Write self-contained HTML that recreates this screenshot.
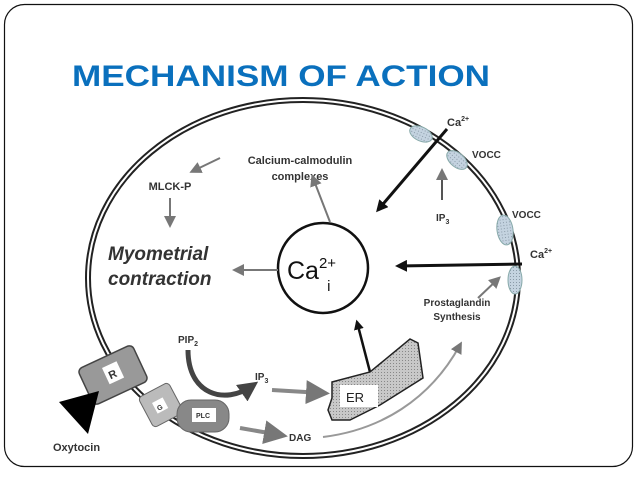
<!DOCTYPE html>
<html><head><meta charset="utf-8"><style>
html,body{margin:0;padding:0;background:#fff;}
svg{display:block;}
text{font-family:"Liberation Sans",sans-serif;font-weight:bold;fill:#333;}
</style></head><body>
<svg width="638" height="479" viewBox="0 0 638 479" xmlns="http://www.w3.org/2000/svg">
<defs>
<marker id="ag" markerWidth="6" markerHeight="6" refX="4" refY="3" orient="auto" markerUnits="strokeWidth"><path d="M0,0 L6,3 L0,6 Z" fill="#777"/></marker>
<marker id="ab" markerWidth="4" markerHeight="4" refX="3" refY="2" orient="auto" markerUnits="strokeWidth"><path d="M0,0 L4,2 L0,4 Z" fill="#111"/></marker>
<marker id="ad" markerWidth="4" markerHeight="4" refX="2.5" refY="2" orient="auto" markerUnits="strokeWidth"><path d="M0,0 L4,2 L0,4 Z" fill="#444"/></marker>
<pattern id="dots" width="3" height="3" patternUnits="userSpaceOnUse"><rect width="3" height="3" fill="#c8c8c8"/><rect width="1" height="1" fill="#888"/></pattern>
<pattern id="bl" width="3" height="3" patternUnits="userSpaceOnUse"><rect width="3" height="3" fill="#c4d3e0"/><rect width="1" height="1" fill="#8a9aa8"/></pattern>
</defs>
<rect x="4.5" y="4.5" width="628" height="462" rx="20" fill="#fff" stroke="#111" stroke-width="1.2"/>
<text x="72" y="86" font-size="30" style="fill:#0a70bd" textLength="418" lengthAdjust="spacingAndGlyphs">MECHANISM OF ACTION</text>

<!-- membrane -->
<ellipse cx="303" cy="278" rx="215" ry="178" fill="none" stroke="#222" stroke-width="6"/>
<ellipse cx="303" cy="278" rx="215" ry="178" fill="none" stroke="#fff" stroke-width="2"/>

<!-- VOCC channels -->
<ellipse cx="421" cy="134" rx="12" ry="7" transform="rotate(25 421 134)" fill="url(#bl)" stroke="#8aa" stroke-width="1"/>
<ellipse cx="457" cy="160" rx="12" ry="7" transform="rotate(40 457 160)" fill="url(#bl)" stroke="#8aa" stroke-width="1"/>
<ellipse cx="505" cy="230" rx="8" ry="15" transform="rotate(-8 505 230)" fill="url(#bl)" stroke="#8aa" stroke-width="1"/>
<ellipse cx="515" cy="280" rx="7" ry="14" fill="url(#bl)" stroke="#8aa" stroke-width="1"/>

<!-- Ca circle -->
<circle cx="323" cy="268" r="45" fill="#fff" stroke="#111" stroke-width="2.5"/>
<text x="287" y="279" font-size="25" style="font-weight:normal;fill:#111">Ca<tspan font-size="15" dy="-11">2+</tspan><tspan font-size="15" dx="-9" dy="23">i</tspan></text>

<!-- labels -->
<text x="300" y="164" font-size="11" text-anchor="middle">Calcium-calmodulin</text>
<text x="300" y="180" font-size="11" text-anchor="middle">complexes</text>
<text x="170" y="190" font-size="11" text-anchor="middle">MLCK-P</text>
<text x="108" y="260" font-size="19" font-style="italic">Myometrial</text>
<text x="108" y="285" font-size="19" font-style="italic">contraction</text>
<text x="447" y="126" font-size="11">Ca<tspan font-size="7" dy="-5">2+</tspan></text>
<text x="472" y="158" font-size="10">VOCC</text>
<text x="436" y="221" font-size="10">IP<tspan font-size="7" dy="3">3</tspan></text>
<text x="512" y="218" font-size="10">VOCC</text>
<text x="530" y="258" font-size="11">Ca<tspan font-size="7" dy="-5">2+</tspan></text>
<text x="457" y="306" font-size="10" text-anchor="middle">Prostaglandin</text>
<text x="457" y="320" font-size="10" text-anchor="middle">Synthesis</text>
<text x="178" y="343" font-size="10">PIP<tspan font-size="7" dy="3">2</tspan></text>
<text x="255" y="380" font-size="10">IP<tspan font-size="7" dy="3">3</tspan></text>
<text x="289" y="441" font-size="10">DAG</text>
<text x="53" y="451" font-size="11">Oxytocin</text>

<!-- gray arrows -->
<line x1="220" y1="158" x2="193" y2="171" stroke="#777" stroke-width="2" marker-end="url(#ag)"/>
<line x1="170" y1="198" x2="170" y2="224" stroke="#777" stroke-width="2" marker-end="url(#ag)"/>
<line x1="278" y1="270" x2="236" y2="270" stroke="#777" stroke-width="2" marker-end="url(#ag)"/>
<line x1="330" y1="222" x2="313" y2="178" stroke="#777" stroke-width="2" marker-end="url(#ag)"/>
<line x1="442" y1="200" x2="442" y2="172" stroke="#555" stroke-width="2" marker-end="url(#ag)"/>
<line x1="478" y1="298" x2="498" y2="279" stroke="#777" stroke-width="2" marker-end="url(#ag)"/>
<line x1="272" y1="390" x2="322" y2="393" stroke="#888" stroke-width="4" marker-end="url(#ag)"/>
<line x1="240" y1="428" x2="280" y2="435" stroke="#888" stroke-width="4" marker-end="url(#ag)"/>
<path d="M323,437 C380,430 430,400 460,345" fill="none" stroke="#999" stroke-width="2" marker-end="url(#ag)"/>

<!-- black arrows -->
<line x1="447" y1="129" x2="378" y2="210" stroke="#111" stroke-width="3" marker-end="url(#ab)"/>
<line x1="522" y1="264" x2="398" y2="266" stroke="#111" stroke-width="3" marker-end="url(#ab)"/>
<line x1="370" y1="372" x2="357" y2="322" stroke="#111" stroke-width="2.5" marker-end="url(#ab)"/>

<!-- ER -->
<path d="M332,382 L370,372 L410,339 L418,343 L423,378 L380,405 L350,420 L332,420 L328,410 L332,398 Z" fill="url(#dots)" stroke="#222" stroke-width="1.5"/>
<rect x="340" y="385" width="38" height="22" fill="#fff"/>
<text x="346" y="402" font-size="13" style="font-weight:normal;fill:#222">ER</text>

<!-- PIP2 curved arrow -->
<path d="M188,350 C188,395 225,405 252,386" fill="none" stroke="#444" stroke-width="5" marker-end="url(#ad)"/>

<!-- receptor complex -->
<g transform="rotate(-25 113 375)">
<rect x="83" y="355" width="60" height="40" rx="5" fill="#999" stroke="#444" stroke-width="1.5"/>
<rect x="106" y="364" width="16" height="18" fill="#fff"/>
<text x="109" y="378" font-size="11" style="fill:#333">R</text>
</g>
<g transform="rotate(-28 161 405)">
<rect x="144" y="388" width="34" height="34" rx="4" fill="#bbb" stroke="#666" stroke-width="1"/>
<rect x="154" y="399" width="12" height="12" fill="#fff"/>
<text x="156" y="409" font-size="7">G</text>
</g>
<rect x="177" y="400" width="52" height="32" rx="14" fill="#888" stroke="#666" stroke-width="1"/>
<rect x="192" y="408" width="24" height="14" fill="#fff"/>
<text x="196" y="418" font-size="7">PLC</text>
<polygon points="59,402 99,391 88,434" fill="#000"/>
</svg>
</body></html>
